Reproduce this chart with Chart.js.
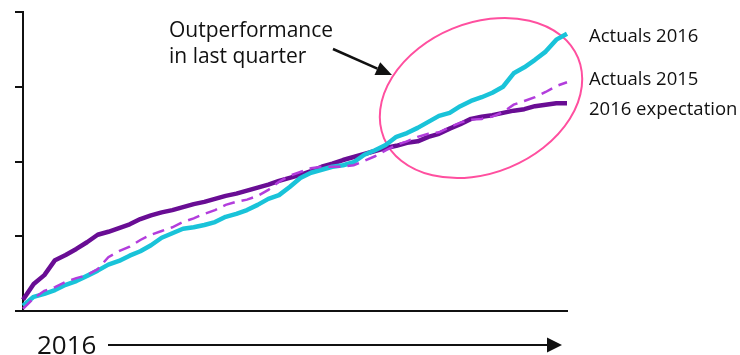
<!DOCTYPE html>
<html>
<head>
<meta charset="utf-8">
<title>Actuals vs expectation 2016</title>
<script src="https://cdn.jsdelivr.net/npm/chart.js@4.4.1/dist/chart.umd.min.js"></script>
<style>
  html, body { margin: 0; padding: 0; background: #ffffff; }
  #wrap { width: 740px; height: 355px; position: relative; }
</style>
</head>
<body>
<div id="wrap"><canvas id="chart" width="740" height="355"></canvas></div>
<script>
// Weekly categories for the year
const weeks = [
  'W1','W2','W3','W4','W5','W6','W7','W8','W9','W10','W11','W12','W13',
  'W14','W15','W16','W17','W18','W19','W20','W21','W22','W23','W24','W25','W26',
  'W27','W28','W29','W30','W31','W32','W33','W34','W35','W36','W37','W38','W39',
  'W40','W41','W42','W43','W44','W45','W46','W47','W48','W49','W50','W51','W52'
];

// Cumulative actuals, 2016
const actuals2016 = [
  7, 19, 23, 28, 35, 40, 47, 54, 62, 67, 74, 80, 88,
  98, 104, 110, 112, 115, 119, 126, 130, 135, 142, 150, 155, 166,
  178, 185, 189, 193, 195, 199, 209, 215, 222, 233, 238, 245, 253,
  261, 265, 274, 281, 286, 292, 300, 318, 326, 336, 347, 363, 371
];

// Cumulative actuals, 2015
const actuals2015 = [
  3, 17, 27, 32, 39, 44, 48, 56, 72, 80, 86, 95, 102,
  107, 112, 119, 124, 130, 135, 142, 146, 149, 154, 162, 173, 181,
  186, 191, 193, 193, 193, 195, 201, 207, 215, 222, 227, 233, 237,
  239, 246, 252, 256, 257, 260, 266, 276, 281, 286, 293, 301, 306
];

// Expected cumulative trajectory, 2016
const expectation2016 = [
  15, 36, 48, 68, 75, 83, 92, 102, 106, 111, 116, 123, 128,
  132, 135, 139, 143, 146, 150, 154, 157, 161, 165, 169, 174, 178,
  182, 187, 193, 197, 202, 206, 210, 214, 218, 221, 225, 227, 233,
  237, 244, 250, 257, 260, 262, 265, 268, 270, 274, 276, 278, 278
];

// Value-axis tick positions
const valueTicks = [0, 100, 200, 300, 400];

// Series names shown beside the line ends
const seriesNames = ['Actuals 2016', 'Actuals 2015', '2016 expectation'];
const calloutLines = ['Outperformance', 'in last quarter'];
const periodLabel = '2016';

const CYAN = '#19c3d9';
const VIOLET = '#b23ddc';
const PURPLE = '#690d94';
const PINK = '#ff4f9f';
const INK = '#111111';
const FONT = '"Open Sans", "Noto Sans", sans-serif';

function drawArrow(ctx, x1, y1, x2, y2, headLen, headHalf, width) {
  const ang = Math.atan2(y2 - y1, x2 - x1);
  const bx = x2 - headLen * Math.cos(ang);
  const by = y2 - headLen * Math.sin(ang);
  ctx.save();
  ctx.strokeStyle = INK;
  ctx.fillStyle = INK;
  ctx.lineWidth = width;
  ctx.beginPath();
  ctx.moveTo(x1, y1);
  ctx.lineTo(bx, by);
  ctx.stroke();
  ctx.beginPath();
  ctx.moveTo(x2, y2);
  ctx.lineTo(bx + headHalf * Math.sin(ang), by - headHalf * Math.cos(ang));
  ctx.lineTo(bx - headHalf * Math.sin(ang), by + headHalf * Math.cos(ang));
  ctx.closePath();
  ctx.fill();
  ctx.restore();
}

// Highlight ellipse around the final quarter
const highlightPlugin = {
  id: 'highlight',
  beforeDatasetsDraw(chart) {
    const ctx = chart.ctx;
    ctx.save();
    ctx.strokeStyle = PINK;
    ctx.lineWidth = 2;
    ctx.beginPath();
    ctx.ellipse(481, 98, 105, 75, -22.4 * Math.PI / 180, 0, Math.PI * 2);
    ctx.stroke();
    ctx.restore();
  }
};

// Series names, callout text and the period arrow
const annotationPlugin = {
  id: 'annotations',
  afterDraw(chart) {
    const ctx = chart.ctx;
    ctx.save();
    ctx.fillStyle = INK;
    ctx.textBaseline = 'alphabetic';
    ctx.textAlign = 'left';

    ctx.font = '18.5px ' + FONT;
    ctx.fillText(seriesNames[0], 589, 42);
    ctx.fillText(seriesNames[1], 589, 85);
    ctx.fillText(seriesNames[2], 589, 115);

    ctx.font = '21px ' + FONT;
    ctx.fillText(calloutLines[0], 169, 37);
    ctx.fillText(calloutLines[1], 169, 63);
    drawArrow(ctx, 333, 49, 392, 75, 16, 7, 2.5);

    ctx.font = '26px ' + FONT;
    ctx.fillText(periodLabel, 37, 354);
    drawArrow(ctx, 108, 345, 562, 345, 15, 7.5, 2);
    ctx.restore();
  }
};

new Chart(document.getElementById('chart'), {
  type: 'line',
  data: {
    labels: weeks,
    datasets: [
      {
        label: seriesNames[1],
        data: actuals2015,
        borderColor: VIOLET,
        borderWidth: 2.5,
        borderDash: [12, 7],
        pointRadius: 0,
        tension: 0,
        fill: false
      },
      {
        label: seriesNames[0],
        data: actuals2016,
        borderColor: CYAN,
        borderWidth: 4.5,
        pointRadius: 0,
        tension: 0,
        borderJoinStyle: 'round',
        fill: false
      },
      {
        label: seriesNames[2],
        data: expectation2016,
        borderColor: PURPLE,
        borderWidth: 4.5,
        pointRadius: 0,
        tension: 0,
        borderJoinStyle: 'round',
        fill: false
      }
    ]
  },
  options: {
    responsive: false,
    animation: false,
    devicePixelRatio: 1,
    layout: { padding: { left: 15, top: 12, right: 173, bottom: 44 } },
    plugins: {
      legend: { display: false },
      tooltip: { enabled: false }
    },
    scales: {
      x: {
        grid: { display: false, drawTicks: false },
        border: { display: true, color: INK, width: 2 },
        ticks: { display: false }
      },
      y: {
        min: valueTicks[0],
        max: valueTicks[valueTicks.length - 1],
        afterBuildTicks(scale) {
          scale.ticks = valueTicks.map(v => ({ value: v }));
        },
        grid: {
          display: true,
          drawOnChartArea: false,
          drawTicks: true,
          tickLength: 8,
          color: INK,
          lineWidth: 2
        },
        border: { display: true, color: INK, width: 2 },
        ticks: { display: false }
      }
    }
  },
  plugins: [highlightPlugin, annotationPlugin]
});
</script>
</body>
</html>
